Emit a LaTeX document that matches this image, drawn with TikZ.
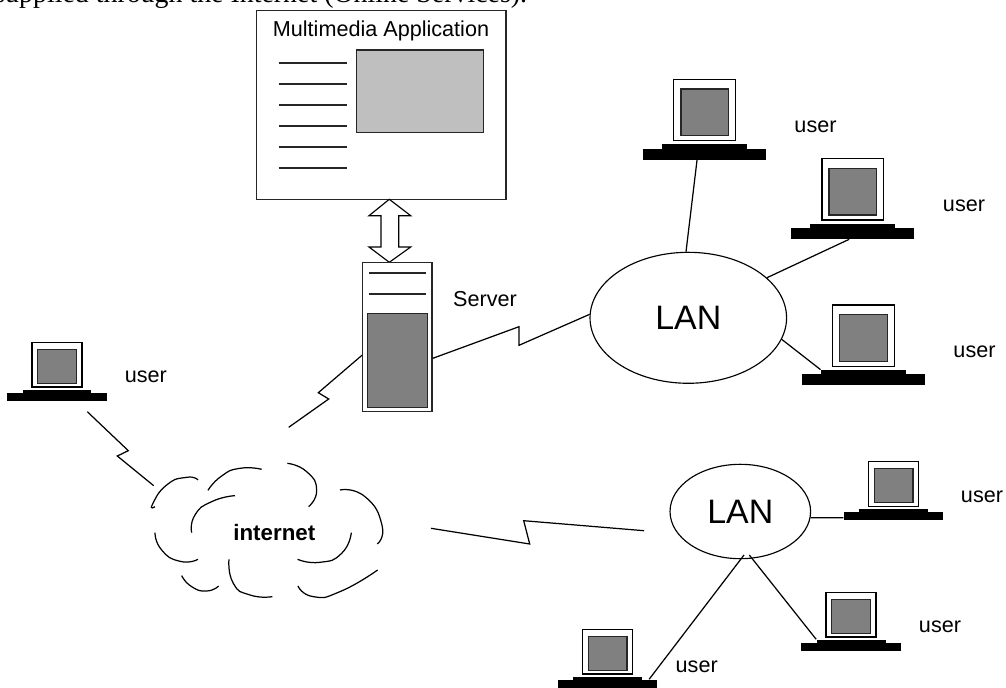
\documentclass[tikz,border=0pt]{standalone}
\usepackage{fontspec}
\setmainfont{Liberation Sans}
\newfontfamily\bodyserif{Liberation Serif}
\usetikzlibrary{shapes.geometric}
\tikzset{
    outline/.style={line width=0.65pt,draw=black},
    rule/.style={line width=1.1pt,draw=black!85},
    link/.style={line width=0.7pt,draw=black},
    cloudarc/.style={line width=0.7pt,draw=black},
    panel/.style={rectangle,line width=0.7pt,draw=black!85,inner sep=0pt},
    screen/.style={line width=0.8pt,draw=black!85,fill=black!50},
    lan/.style={ellipse,line width=0.65pt,draw=black,inner sep=0pt,font=\fontsize{19.3}{22}\selectfont},
    label/.style={font=\fontsize{12.3}{14}\selectfont,inner sep=0pt},
    computerpart/.style={rectangle,fill=black,inner sep=0pt,anchor=south,transform shape},
    pics/computer/.style={code={
        \node[computerpart,minimum width=1.988cm,minimum height=0.16cm] (-base) at (0,0) {};
        \node[computerpart,minimum width=1.38cm,minimum height=0.06cm] (-neck) at (0,-8) {};
        \draw[outline,fill=white] (-25,-14) rectangle (25,-58.7);
        \draw[screen] (-19.3,-17.7) rectangle (19.3,-51.7);
    }},
}

\begin{document}
\begin{tikzpicture}[x=0.02cm,y=-0.02cm]
            \useasboundingbox (0,0) rectangle (1006,688);
            \node[font=\bodyserif\fontsize{15.87}{18}\selectfont,anchor=base west,inner sep=0pt] (intro) at (-6,3) {supplied through the Internet (Online Services).};

            \node[panel,minimum width=4.986cm,minimum height=3.772cm] (appBox) at (381.35,105) {};
            \node[label] (appTitle) at (381,31) {Multimedia Application};
            \draw[outline,draw=black!85,fill=black!25] (356.3,50) rectangle (483.7,132.7);
            \draw[rule] (278.7,63.3) -- (347,63.3);
            \draw[rule] (278.7,84.3) -- (347,84.3);
            \draw[rule] (278.7,105.3) -- (347,105.3);
            \draw[rule] (278.7,126.3) -- (347,126.3);
            \draw[rule] (278.7,147.3) -- (347,147.3);
            \draw[rule] (278.7,168.3) -- (347,168.3);

            \draw[outline,fill=white] (389.3,199.3) -- (410.7,215.7) -- (398.7,215.7) -- (398.7,247) -- (410.7,247) -- (389.3,262.3) -- (369,247) -- (381,247) -- (381,215.7) -- (369,215.7) -- cycle;

            \node[panel,minimum width=1.386cm,minimum height=2.98cm] (server) at (397.35,337.2) {};
            \draw[rule] (369.3,273.3) -- (426,273.3);
            \draw[rule] (369.3,294.3) -- (426,294.3);
            \draw[screen] (367.7,313.7) rectangle (427.3,407.7);
            \node[label] (serverText) at (485,299) {Server};

            \node[lan,minimum width=3.932cm,minimum height=2.62cm] (lanBig) at (688.3,317.8) {LAN};
            \node[lan,minimum width=2.812cm,minimum height=1.888cm] (lanSmall) at (740.3,511.5) {LAN};

            \pic (compLeft) at (57,401) {computer};
            \pic[xscale=1.234,yscale=1.375] (compTop) at (704.7,160) {computer};
            \pic[xscale=1.234,yscale=1.375] (compMid) at (852.8,239.3) {computer};
            \pic[xscale=1.234,yscale=1.375] (compLow) at (863.5,385.7) {computer};
            \pic (compEast) at (893.5,520.3) {computer};
            \pic (compSouth) at (851,651) {computer};
            \pic (compWest) at (607.7,688) {computer};

            \node[label] (userLeft) at (145.8,376.7) {user};
            \node[label] (userTop) at (815.5,126.7) {user};
            \node[label] (userMid) at (964,206) {user};
            \node[label] (userLow) at (974.5,352) {user};
            \node[label] (userEast) at (982,497) {user};
            \node[label] (userSouth) at (940,627) {user};
            \node[label] (userWest) at (696.7,666.7) {user};

            \coordinate (leftEnd) at (87.3,411.7);
            \coordinate (cloudLeft) at (153.7,485.7);
            \coordinate (cloudTop) at (288.7,427.3);
            \coordinate (cloudRight) at (431,528.3);
            \coordinate (lanSmallWest) at (644,530.7);
            \coordinate (lanSmallA) at (749.3,555);
            \coordinate (lanSmallB) at (744,555);

            \draw[link] (leftEnd) -- (128.3,450.7) -- (117.3,456) -- (cloudLeft);
            \draw[link] (server.207) -- (318.3,392.7) -- (328.7,399) -- (cloudTop);
            \draw[link] (server.-31) -- (519,326.7) -- (519,345.3) -- (lanBig.178);
            \draw[link] (cloudRight) -- (529.7,544) -- (523.7,520.7) -- (lanSmallWest);
            \draw[link] (compTop-base.215) -- (lanBig.92);
            \draw[link] (compMid-base.236) -- (lanBig.27);
            \draw[link] (lanBig.-13) -- (compLow-neck.north west);
            \draw[link] (lanSmall.-5) -- (compEast-base.182);
            \draw[link] (lanSmallA) -- (compSouth-neck.north west);
            \draw[link] (lanSmallB) -- (compWest-base.6);

            \begin{scope}[shift={(100,400)},scale=0.3333]
            \node[label,font=\bfseries\fontsize{12.7}{14}\selectfont] (internet) at (523,397) {internet};
            \draw[cloudarc] plot[smooth,tension=1] coordinates{(165,320) (157,314) (200,255) (260,232) (294,240)};
            \draw[cloudarc] plot[smooth,tension=1] coordinates{(324,271) (365,228) (420,205) (485,208)};
            \draw[cloudarc] plot[smooth,tension=1] coordinates{(562,190) (620,215) (650,270) (626,320)};
            \draw[cloudarc] plot[smooth,tension=1] coordinates{(720,270) (795,290) (846,375) (832,432)};
            \draw[cloudarc] plot[smooth,tension=1] coordinates{(275,398) (285,345) (335,305) (405,287)};
            \draw[cloudarc] plot[smooth,tension=1] coordinates{(165,398) (185,450) (240,484) (294,478)};
            \draw[cloudarc] plot[smooth,tension=1] coordinates{(245,527) (275,560) (320,573) (356,558)};
            \draw[cloudarc] plot[smooth,tension=1] coordinates{(387,478) (400,550) (450,585) (517,590)};
            \draw[cloudarc] plot[smooth,tension=1] coordinates{(594,558) (640,590) (720,575) (833,510)};
            \draw[cloudarc] plot[smooth,tension=1] coordinates{(593,478) (660,487) (725,460) (754,398)};
            \end{scope}
\end{tikzpicture}
\end{document}
